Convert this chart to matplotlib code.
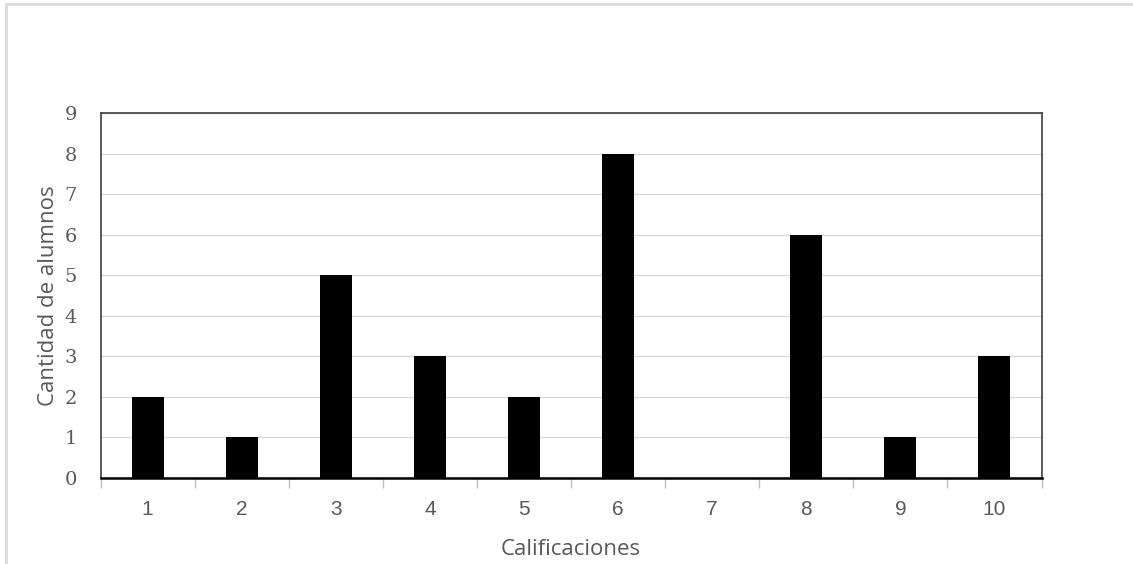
import numpy as np
import matplotlib
matplotlib.use("Agg")
import matplotlib.pyplot as plt
from matplotlib.patches import Rectangle

# data
grades = [1, 2, 3, 4, 5, 6, 7, 8, 9, 10]
students = [2, 1, 5, 3, 2, 8, 0, 6, 1, 3]
y_ticks = list(range(0, 10))

W, H = 1133, 564
fig = plt.figure(figsize=(W / 100, H / 100), dpi=100)

# light gray chart border (top + left visible)
fig.patches.append(Rectangle((6 / W, -0.1), 1.2, 1 - 4 / H + 0.1,
                             transform=fig.transFigure, fill=False,
                             edgecolor="#d9d9d9", linewidth=2, zorder=0))

ax = fig.add_axes([100.5 / W, 1 - 478 / H, 941 / W, 365 / H])
ax.bar(grades, students, width=0.34, color="black", zorder=3)

ax.set_xlim(0.5, 10.5)
ax.set_ylim(0, 9)
ax.set_yticks(y_ticks)
ax.set_yticklabels([str(v) for v in y_ticks], family="DejaVu Serif",
                   fontsize=14, color="#595959")
ax.tick_params(axis="y", length=0, pad=17)
ax.grid(axis="y", color="#d9d9d9", linewidth=1, zorder=0)

ax.set_xticks(grades)
ax.set_xticklabels([str(g) for g in grades], fontsize=15,
                   family="Liberation Sans", color="#595959")
ax.set_xticks(np.arange(0.5, 11, 1), minor=True)
ax.tick_params(axis="x", which="major", length=0, pad=16)
ax.tick_params(axis="x", which="minor", length=7, color="#bfbfbf", width=1)

for s in ["left", "top", "right"]:
    ax.spines[s].set_color("#404040")
    ax.spines[s].set_linewidth(1.2)
ax.spines["bottom"].set_color("black")
ax.spines["bottom"].set_linewidth(1.8)

ax.set_xlabel("Calificaciones", fontsize=16, family="Open Sans",
              color="#595959", labelpad=14)
ax.set_ylabel("Cantidad de alumnos", fontsize=16, family="Open Sans",
              color="#595959", labelpad=4)

plt.savefig("out.png", dpi=100)
